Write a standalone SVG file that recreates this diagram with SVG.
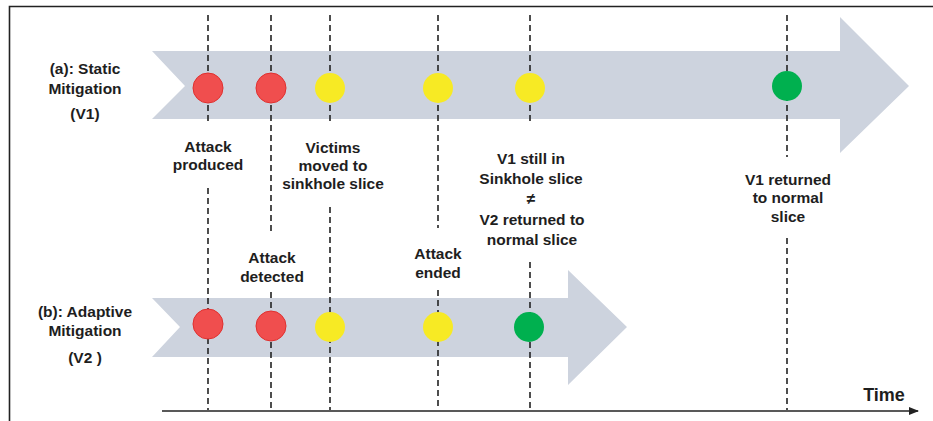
<svg xmlns="http://www.w3.org/2000/svg" width="933" height="421" viewBox="0 0 933 421">
  <defs>
    <style>
      .lbl { font-family: "Liberation Sans", Arial, sans-serif; font-weight: bold; font-size: 15.5px; fill: #1e1e1e; text-anchor: middle; }
      .band { fill: #cdd3de; }
      .guide { stroke: #222; stroke-width: 1.6; stroke-dasharray: 6 4; fill: none; }
      .red { fill: #f04e4e; stroke: #e0302f; stroke-width: 1; }
      .yellow { fill: #f7ea24; }
      .green { fill: #00b04f; }
    </style>
    <marker id="tip" markerWidth="10" markerHeight="8" refX="9" refY="4" orient="auto" markerUnits="userSpaceOnUse">
      <path d="M0,0 L10,4 L0,8 Z" fill="#222"/>
    </marker>
  </defs>

  <rect width="933" height="421" fill="#ffffff"/>

  <!-- frame -->
  <path d="M9.5,421 V6.5 H933" fill="none" stroke="#222" stroke-width="1.6"/>

  <!-- timeline bands -->
  <g id="band-static">
    <polygon class="band" points="152,51 840,51 840,17 909,86 840,153 840,119 152,119 185,86"/>
  </g>
  <g id="band-adaptive">
    <polygon class="band" points="152,298 568,298 568,270 627,327 568,385 568,357 152,357 180,327"/>
  </g>

  <!-- event guides and time axis -->
  <g id="connectors">
    <path class="guide" d="M208,15 V125 M208,188 V410"/>
    <path class="guide" d="M271,15 V235 M271,292 V410"/>
    <path class="guide" d="M330,15 V125 M330,207 V410"/>
    <path class="guide" d="M438,15 V228 M438,290 V410"/>
    <path class="guide" d="M530,15 V125 M530,262 V410"/>
    <path class="guide" d="M787,15 V157 M787,238 V410"/>
    <line x1="162" y1="411" x2="918" y2="411" stroke="#222" stroke-width="1.6" marker-end="url(#tip)"/>
  </g>

  <!-- row labels -->
  <g id="label-static">
    <text class="lbl" x="85" y="74">(a): Static</text>
    <text class="lbl" x="85" y="94">Mitigation</text>
    <text class="lbl" x="85" y="119">(V1)</text>
  </g>
  <g id="label-adaptive">
    <text class="lbl" x="85" y="317">(b): Adaptive</text>
    <text class="lbl" x="85" y="336">Mitigation</text>
    <text class="lbl" x="85" y="363">(V2 )</text>
  </g>

  <!-- static mitigation events -->
  <g id="v1-events">
    <circle class="red" cx="208" cy="88" r="15"/>
    <circle class="red" cx="271" cy="88" r="15"/>
    <circle class="yellow" cx="330" cy="88" r="15"/>
    <circle class="yellow" cx="438" cy="88" r="15"/>
    <circle class="yellow" cx="530" cy="88" r="15"/>
    <circle class="green" cx="787" cy="86" r="15"/>
  </g>

  <!-- adaptive mitigation events -->
  <g id="v2-events">
    <circle class="red" cx="208" cy="324" r="15"/>
    <circle class="red" cx="271" cy="326" r="15"/>
    <circle class="yellow" cx="330" cy="327" r="15"/>
    <circle class="yellow" cx="438" cy="327" r="15"/>
    <circle class="green" cx="529" cy="327" r="15"/>
  </g>

  <!-- event captions -->
  <g id="attack-produced">
    <text class="lbl" x="208" y="152">Attack</text>
    <text class="lbl" x="208" y="170">produced</text>
  </g>
  <g id="victims-moved">
    <text class="lbl" x="333" y="153">Victims</text>
    <text class="lbl" x="333" y="171">moved to</text>
    <text class="lbl" x="333" y="189">sinkhole slice</text>
  </g>
  <g id="v1-sinkhole">
    <text class="lbl" x="531" y="164">V1 still in</text>
    <text class="lbl" x="531" y="184">Sinkhole slice</text>
    <text class="lbl" x="531" y="204">≠</text>
    <text class="lbl" x="532" y="225">V2 returned to</text>
    <text class="lbl" x="532" y="245">normal slice</text>
  </g>
  <g id="v1-returned">
    <text class="lbl" x="788" y="185">V1 returned</text>
    <text class="lbl" x="788" y="203">to normal</text>
    <text class="lbl" x="788" y="222">slice</text>
  </g>
  <g id="attack-detected">
    <text class="lbl" x="272" y="263">Attack</text>
    <text class="lbl" x="272" y="282">detected</text>
  </g>
  <g id="attack-ended">
    <text class="lbl" x="438" y="259">Attack</text>
    <text class="lbl" x="438" y="278">ended</text>
  </g>
  <g id="time-label">
    <text class="lbl" x="884" y="401" style="font-size:18px">Time</text>
  </g>
</svg>
